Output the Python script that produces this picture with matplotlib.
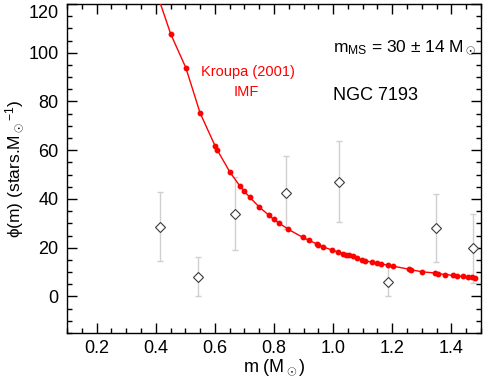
import matplotlib
matplotlib.use("Agg")
import matplotlib.pyplot as plt
from matplotlib.ticker import MultipleLocator
from matplotlib.transforms import ScaledTranslation

plt.rcParams['font.family'] = ['Liberation Sans', 'DejaVu Sans']
plt.rcParams['mathtext.fontset'] = 'custom'
plt.rcParams['mathtext.rm'] = 'Liberation Sans'
plt.rcParams['mathtext.it'] = 'Liberation Sans:italic'

# Observed mass function (diamonds with error bars)
obs_m = [0.416, 0.542, 0.667, 0.841, 1.020, 1.187, 1.348, 1.472]
obs_phi = [28.6, 8.0, 33.8, 42.3, 47.1, 6.0, 27.9, 19.7]
obs_err_lo = [14.1, 8.0, 14.9, 14.7, 16.7, 5.9, 13.9, 14.1]
obs_err_hi = [14.4, 8.3, 15.3, 15.3, 16.8, 6.5, 14.0, 14.0]

# Kroupa (2001) IMF curve points
imf_m = [0.400, 0.451, 0.502, 0.550, 0.601, 0.608, 0.650, 0.684, 0.700, 0.718,
         0.750, 0.783, 0.799, 0.817, 0.849, 0.898, 0.918, 0.944, 0.950, 0.965,
         0.997, 1.017, 1.035, 1.044, 1.054, 1.066, 1.080, 1.098, 1.108, 1.131,
         1.148, 1.161, 1.184, 1.204, 1.255, 1.265, 1.302, 1.345, 1.355, 1.379,
         1.407, 1.419, 1.439, 1.456, 1.470, 1.481]
imf_phi = [125.8, 107.6, 93.8, 75.3, 61.7, 60.1, 51.2, 45.4, 43.1, 40.7,
           36.7, 33.3, 31.6, 30.1, 27.5, 24.2, 23.0, 21.6, 21.2, 20.4,
           19.0, 18.2, 17.6, 17.2, 16.8, 16.4, 15.7, 15.0, 14.6, 14.1,
           13.7, 13.3, 12.9, 12.4, 11.2, 10.9, 10.1, 9.6, 9.3, 9.0,
           8.6, 8.5, 8.2, 8.0, 7.8, 7.6]

fig = plt.figure(figsize=(4.91, 3.79), dpi=100)
ax = fig.add_axes([0.1365, 0.1214, 0.8431, 0.868])

ax.plot(imf_m, imf_phi, color='#ff0000', lw=1.0, marker='o', ms=3.2,
        mec='#ff0000', mfc='#ff0000', zorder=3)

ax.errorbar(obs_m, obs_phi, yerr=[obs_err_lo, obs_err_hi], fmt='none',
            ecolor='#d0d0d0', elinewidth=1.0, capsize=2.5, capthick=1.0, zorder=2)
ax.plot(obs_m, obs_phi, linestyle='none', marker='D', ms=5, mfc='white',
        mec='#3a3a3a', mew=0.8, zorder=4)

ax.set_xlim(0.1, 1.5)
ax.set_ylim(-15, 120)
ax.xaxis.set_minor_locator(MultipleLocator(0.05))
ax.yaxis.set_minor_locator(MultipleLocator(5))
ax.set_xticks([0.2, 0.4, 0.6, 0.8, 1.0, 1.2, 1.4])
ax.set_xticklabels(['0.2', '0.4', '0.6', '0.8', '1.0', '1.2', '1.4'])
ax.set_yticks([0, 20, 40, 60, 80, 100, 120])
ax.tick_params(which='both', direction='in', top=True, right=True, width=1.0,
               labelsize=13, colors='black')
ax.tick_params(which='major', length=7)
ax.tick_params(axis='x', which='major', pad=5)
ax.tick_params(axis='y', which='major', pad=6)
ax.tick_params(which='minor', length=3.5)
for s in ax.spines.values():
    s.set_linewidth(1.0)

# shift top y tick label down so it stays inside the figure
fig.canvas.draw()
top_lbl = ax.get_yticklabels()[-1]
top_lbl.set_transform(top_lbl.get_transform() + ScaledTranslation(0, -7 / 100, fig.dpi_scale_trans))

ax.set_xlabel(r'm (M$_\odot$)', fontsize=13, labelpad=0)
ax.set_ylabel(r'ϕ(m) (stars.M$_\odot$$^{-1}$)', fontsize=12.5, labelpad=2)

ax.text(0.712, 91.9, 'Kroupa (2001)', color='#ff0000',
        fontsize=10.5, ha='center', va='center')
ax.text(0.706, 83.7, 'IMF', color='#ff0000',
        fontsize=10.5, ha='center', va='center')
ax.text(1.0, 102.1, r'm$_{\rm MS}$ = 30 ± 14 M$_\odot$',
        color='black', fontsize=12.5, ha='left', va='center')
ax.text(1.0, 82.5, 'NGC 7193', color='black',
        fontsize=13, ha='left', va='center')

fig.savefig('out.png', dpi=100)
